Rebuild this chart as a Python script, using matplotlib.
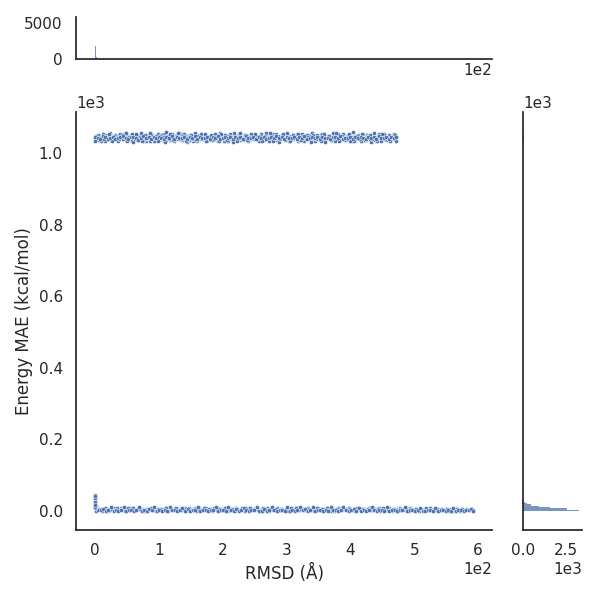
import matplotlib
matplotlib.use("Agg")
import matplotlib.pyplot as plt
from matplotlib.ticker import MaxNLocator
import seaborn as sns

sns.set_theme(style="white")
plt.rcParams['font.family'] = ['DejaVu Sans']

# ---- data: upper band (RMSD, energy MAE) ----
top_x = [0.5, 4.2, 8.1, 11.9, 16.3, 20.0, 24.1, 27.8, 32.2, 36.0, 39.7, 44.1, 48.0, 51.8, 56.2, 60.1, 63.9, 68.0, 72.2, 75.8,
         80.1, 84.0, 87.9, 92.1, 96.2, 99.8, 104.0, 108.1, 111.9, 116.2, 120.0, 123.8, 128.1, 132.0, 136.2, 139.9, 144.0, 148.2,
         151.8, 156.1, 160.0, 163.9, 168.2, 172.0, 175.8, 180.1, 184.2, 187.9, 192.0, 196.1, 199.8, 204.2, 208.0, 211.9, 216.1,
         220.0, 224.2, 227.8, 232.1, 236.0, 239.9, 244.2, 248.0, 251.8, 256.1, 260.2, 263.9, 268.0, 272.1, 275.9, 280.2, 284.0,
         287.8, 292.1, 296.0, 300.2, 303.9, 308.0, 312.1, 315.8, 320.2, 324.0, 327.9, 332.1, 336.0, 339.8, 344.2, 348.0, 352.1,
         355.9, 360.0, 364.2, 367.8, 372.1, 376.0, 379.9, 384.2, 388.0, 391.8, 396.1, 400.0, 404.2, 407.9, 412.0, 416.1, 419.8,
         424.2, 428.0, 431.9, 436.1, 440.0, 444.2, 447.8, 452.1, 456.0, 459.9, 464.1, 468.0, 471.5]
top_y1 = [1044, 1039, 1047, 1041, 1050, 1043, 1037, 1046, 1042, 1049, 1040, 1045, 1038, 1048, 1043, 1051, 1039, 1044, 1046, 1041,
          1036, 1047, 1043, 1049, 1040, 1045, 1042, 1053, 1038, 1046, 1044, 1041, 1048, 1039, 1045, 1043, 1050, 1037, 1046, 1042,
          1047, 1040, 1044, 1049, 1041, 1045, 1038, 1047, 1043, 1050, 1039, 1046, 1042, 1044, 1048, 1040, 1045, 1037, 1047, 1043,
          1049, 1041, 1044, 1046, 1039, 1051, 1042, 1045, 1040, 1048, 1043, 1038, 1046, 1044, 1050, 1041, 1047, 1039, 1045, 1043,
          1049, 1040, 1046, 1042, 1052, 1038, 1044, 1047, 1041, 1045, 1043, 1048, 1039, 1046, 1042, 1050, 1037, 1044, 1047, 1041,
          1045, 1040, 1049, 1043, 1046, 1038, 1044, 1048, 1042, 1045, 1036, 1047, 1043, 1050, 1041, 1044, 1046, 1039, 1045]
top_y2 = [1036, 1052, 1040, 1055, 1034, 1049, 1057, 1038, 1051, 1035, 1053, 1041, 1056, 1037, 1050, 1033, 1054, 1039, 1058, 1036,
          1051, 1042, 1055, 1034, 1049, 1038, 1052, 1036, 1060, 1040, 1053, 1035, 1050, 1057, 1037, 1054, 1033, 1051, 1039, 1056,
          1036, 1052, 1041, 1055, 1034, 1050, 1038, 1053, 1035, 1057, 1040, 1051, 1036, 1054, 1033, 1049, 1039, 1056, 1037, 1052,
          1035, 1055, 1041, 1050, 1034, 1053, 1038, 1058, 1036, 1051, 1040, 1054, 1033, 1052, 1039, 1056, 1035, 1050, 1042, 1055,
          1037, 1053, 1034, 1051, 1040, 1057, 1036, 1052, 1038, 1054, 1033, 1050, 1041, 1056, 1035, 1053, 1039, 1055, 1037, 1051,
          1034, 1059, 1040, 1052, 1036, 1054, 1038, 1050, 1033, 1056, 1041, 1053, 1035, 1055, 1037, 1051, 1039, 1054, 1036]
top_y3 = [1046, 1043, 1041, 1048, 1045, 1040, 1044, 1047, 1039, 1042, 1046, 1050, 1043, 1040, 1045, 1047, 1042, 1038, 1044, 1048,
          1043, 1046, 1040, 1045, 1042, 1047, 1044, 1041, 1046, 1043, 1048, 1040, 1045, 1042, 1044, 1047, 1041, 1045, 1043, 1049,
          1040, 1046, 1042, 1044, 1047, 1039, 1045, 1043, 1048, 1041, 1044, 1046, 1042, 1045, 1040, 1047, 1043, 1045, 1041, 1048,
          1044, 1042, 1046, 1040, 1045, 1043, 1047, 1041, 1044, 1046, 1042, 1049, 1043, 1045, 1040, 1047, 1044, 1042, 1046, 1041,
          1045, 1043, 1048, 1040, 1044, 1046, 1042, 1045, 1039, 1047, 1043, 1044, 1041, 1046, 1045, 1042, 1048, 1040, 1044, 1043,
          1046, 1041, 1045, 1042, 1047, 1044, 1040, 1046, 1043, 1045, 1041, 1048, 1042, 1044, 1046, 1040, 1045, 1043, 1047]
top_x_b = [2.3, 6.0, 10.2, 14.1, 18.0, 22.2, 26.0, 29.9, 34.1, 38.0, 42.2, 46.1, 49.9, 54.0, 58.1, 62.0, 66.2, 70.0, 74.1, 77.9,
           82.2, 86.0, 90.1, 94.0, 98.2, 102.1, 105.9, 110.0, 114.1, 118.0, 122.2, 125.9, 130.1, 134.0, 138.2, 142.0, 146.1,
           150.0, 154.2, 157.9, 162.1, 166.0, 170.2, 173.9, 178.0, 182.2, 186.0, 190.1, 194.0, 197.9, 202.1, 206.0, 210.2, 214.0,
           218.1, 222.0, 226.1, 230.0, 234.2, 238.0, 242.1, 246.0, 250.2, 253.9, 258.0, 262.1, 266.0, 270.2, 274.0, 278.1, 282.0,
           286.2, 290.0, 294.1, 298.0, 302.2, 306.0, 310.1, 314.0, 318.1, 322.0, 326.2, 330.0, 334.1, 338.0, 342.1, 346.0, 350.2,
           354.0, 358.1, 362.0, 366.1, 370.0, 374.2, 378.0, 382.1, 386.0, 390.1, 394.0, 398.2, 402.0, 406.1, 410.0, 414.2, 418.0,
           422.1, 426.0, 430.1, 434.0, 438.2, 442.0, 446.1, 450.0, 454.2, 458.0, 462.1, 466.0, 469.8]
top_y4 = [1041, 1048, 1035, 1045, 1052, 1039, 1043, 1050, 1037, 1046, 1042, 1054, 1040, 1047, 1036, 1044, 1051, 1038, 1045, 1049,
          1041, 1034, 1047, 1043, 1053, 1039, 1046, 1042, 1050, 1037, 1044, 1048, 1040, 1055, 1043, 1038, 1047, 1045, 1035, 1051,
          1042, 1046, 1039, 1049, 1044, 1037, 1052, 1041, 1047, 1043, 1036, 1050, 1045, 1040, 1048, 1038, 1053, 1042, 1046, 1044,
          1039, 1051, 1041, 1047, 1035, 1049, 1043, 1045, 1040, 1054, 1037, 1046, 1042, 1048, 1044, 1038, 1050, 1041, 1047, 1036,
          1052, 1043, 1045, 1039, 1049, 1042, 1046, 1040, 1051, 1037, 1044, 1048, 1041, 1055, 1043, 1038, 1047, 1045, 1040, 1050,
          1036, 1046, 1042, 1049, 1039, 1044, 1052, 1041, 1047, 1037, 1045, 1043, 1048, 1040, 1046, 1038, 1050, 1044, 1042]
top_y5 = [1049, 1037, 1044, 1040, 1046, 1055, 1036, 1048, 1043, 1039, 1051, 1045, 1034, 1047, 1053, 1041, 1038, 1046, 1035, 1052,
          1044, 1056, 1039, 1042, 1036, 1050, 1045, 1033, 1048, 1054, 1038, 1043, 1057, 1040, 1049, 1035, 1044, 1052, 1041, 1037,
          1048, 1055, 1043, 1034, 1046, 1051, 1039, 1045, 1036, 1053, 1042, 1038, 1049, 1044, 1056, 1035, 1047, 1041, 1052, 1037,
          1045, 1043, 1054, 1039, 1048, 1034, 1050, 1042, 1057, 1036, 1044, 1049, 1040, 1053, 1038, 1046, 1035, 1051, 1043, 1055,
          1037, 1048, 1041, 1045, 1033, 1052, 1040, 1047, 1036, 1054, 1042, 1049, 1038, 1044, 1056, 1035, 1050, 1043, 1039, 1053,
          1046, 1034, 1048, 1041, 1055, 1037, 1045, 1051, 1040, 1043, 1036, 1049, 1054, 1039, 1047, 1035, 1044, 1052, 1041]

# ---- data: lower band ----
bot_x = [1.0, 5.1, 9.0, 12.8, 17.1, 21.0, 24.9, 29.2, 33.0, 36.8, 41.1, 45.0, 49.2, 52.9, 57.0, 61.1, 64.8, 69.0, 73.2, 76.9,
         81.0, 85.1, 88.9, 93.0, 97.2, 100.8, 105.1, 109.0, 112.9, 117.1, 121.0, 124.8, 129.2, 133.0, 136.9, 141.1, 145.0, 149.2,
         152.8, 157.0, 161.1, 164.9, 169.0, 173.2, 176.8, 181.0, 185.1, 189.0, 192.9, 197.1, 201.0, 204.8, 209.1, 213.0, 217.2,
         220.9, 225.0, 229.1, 232.8, 237.0, 241.2, 244.9, 249.0, 253.1, 256.8, 261.0, 265.2, 268.9, 273.0, 277.1, 280.8, 285.0,
         289.2, 292.9, 297.0, 301.1, 304.8, 309.0, 313.2, 316.9, 321.0, 325.1, 328.8, 333.0, 337.2, 340.9, 345.0, 349.1, 352.8,
         357.0, 361.2, 364.9, 369.0, 373.1, 376.8, 381.0, 385.2, 388.9, 393.0, 397.1, 400.8, 405.0, 409.2, 412.9, 417.0, 421.1,
         424.8, 429.0, 433.2, 436.9, 441.0, 445.1, 448.8, 453.0, 457.2, 460.9, 465.0, 469.1, 472.8, 477.0, 481.2, 484.9, 489.0,
         493.1, 496.8, 501.0, 505.2, 508.9, 513.0, 517.1, 520.8, 525.0, 529.2, 532.9, 537.0, 541.1, 544.8, 549.0, 553.2, 556.9,
         561.0, 565.1, 568.8, 573.0, 577.2, 580.9, 585.0, 589.3, 592.0]
bot_y1 = [4.2, 2.1, 6.3, 3.5, 8.0, 1.2, 5.4, 7.1, 2.8, 4.9, 9.2, 3.1, 6.0, 1.8, 7.6, 4.4, 2.5, 8.3, 5.2, 3.0, 6.8, 1.5, 4.7, 7.9,
          2.3, 5.8, 3.6, 9.0, 1.9, 6.2, 4.1, 7.4, 2.7, 5.5, 3.3, 8.6, 1.4, 6.5, 4.0, 7.2, 2.2, 5.1, 3.8, 8.8, 1.7, 6.1, 4.6, 7.7,
          2.9, 5.3, 3.4, 9.4, 1.3, 6.7, 4.3, 7.0, 2.4, 5.9, 3.7, 8.1, 1.6, 6.4, 4.8, 7.5, 2.6, 5.0, 3.2, 8.9, 1.1, 6.6, 4.5, 7.3,
          2.0, 5.7, 3.9, 8.4, 1.8, 6.0, 4.2, 7.8, 2.5, 5.4, 3.1, 9.1, 1.4, 6.3, 4.7, 7.1, 2.8, 5.6, 3.5, 8.2, 1.2, 6.9, 4.0, 7.6,
          2.3, 5.2, 3.6, 8.7, 1.7, 6.2, 4.4, 7.4, 2.1, 5.8, 3.0, 8.0, 1.5, 6.5, 4.9, 7.0, 2.6, 5.5, 3.3, 8.5, 1.0, 6.1, 4.3, 7.2,
          2.4, 5.3, 3.8, 7.9, 1.6, 6.4, 4.1, 6.8, 2.2, 5.0, 3.4, 7.3, 1.3, 5.9, 4.6, 6.6, 2.0, 4.8, 3.2, 6.2, 1.1, 5.1, 3.9, 5.6,
          1.8, 4.2, 2.7, 5.0, 3.5]
bot_y2 = [0.8, 3.0, 1.5, 5.7, 0.4, 2.6, 10.2, 1.1, 3.8, 0.6, 2.2, 11.0, 0.9, 4.1, 1.7, 0.3, 3.3, 9.8, 1.3, 2.8, 0.7, 4.5, 1.9,
          10.6, 0.5, 3.1, 1.2, 2.4, 0.8, 11.3, 1.6, 3.6, 0.4, 2.0, 9.5, 1.0, 4.3, 0.6, 2.7, 1.4, 10.8, 0.9, 3.2, 1.8, 0.5, 4.0,
          2.3, 11.5, 0.7, 1.5, 3.5, 0.3, 10.0, 2.1, 1.1, 4.4, 0.8, 2.9, 9.7, 1.6, 0.4, 3.4, 2.5, 11.1, 0.6, 1.3, 4.2, 0.9, 2.0,
          10.4, 1.7, 0.5, 3.7, 2.6, 0.8, 11.8, 1.2, 3.0, 0.4, 2.3, 9.9, 1.5, 4.6, 0.7, 1.9, 10.7, 0.3, 3.3, 2.2, 1.0, 4.0, 0.6,
          11.2, 2.7, 1.4, 0.9, 3.6, 10.1, 1.8, 0.5, 2.4, 4.3, 0.8, 9.6, 1.1, 3.1, 0.4, 2.0, 10.9, 1.6, 0.7, 3.8, 2.5, 1.3, 11.4,
          0.6, 3.5, 1.9, 0.9, 4.1, 2.2, 10.3, 0.5, 1.5, 3.2, 0.8, 2.8, 9.4, 1.2, 0.4, 3.9, 2.1, 1.0, 8.8, 0.7, 2.6, 1.7, 0.5,
          3.4, 1.1, 7.9, 0.9, 2.3, 1.4, 0.6, 3.0, 1.8, 6.5, 0.8]
bot_x_b = [3.0, 7.1, 11.0, 15.0, 19.1, 23.0, 27.1, 31.0, 34.9, 39.0, 43.1, 47.0, 51.1, 55.0, 59.0, 63.1, 67.0, 71.1, 75.0, 79.0,
           83.1, 87.0, 91.0, 95.1, 99.0, 103.0, 107.1, 111.0, 115.0, 119.1, 123.0, 127.0, 131.1, 135.0, 139.0, 143.1, 147.0,
           151.0, 155.1, 159.0, 163.0, 167.1, 171.0, 175.0, 179.1, 183.0, 187.0, 191.1, 195.0, 199.0, 203.1, 207.0, 211.0, 215.1,
           219.0, 223.0, 227.1, 231.0, 235.0, 239.1, 243.0, 247.0, 251.1, 255.0, 259.0, 263.1, 267.0, 271.0, 275.1, 279.0, 283.0,
           287.1, 291.0, 295.0, 299.1, 303.0, 307.0, 311.1, 315.0, 319.0, 323.1, 327.0, 331.0, 335.1, 339.0, 343.0, 347.1, 351.0,
           355.0, 359.1, 363.0, 367.0, 371.1, 375.0, 379.0, 383.1, 387.0, 391.0, 395.1, 399.0, 403.0, 407.1, 411.0, 415.0, 419.1,
           423.0, 427.0, 431.1, 435.0, 439.0, 443.1, 447.0, 451.0, 455.1, 459.0, 463.0, 467.1, 471.0, 475.0, 479.1, 483.0, 487.0,
           491.1, 495.0, 499.0, 503.1, 507.0, 511.0, 515.1, 519.0, 523.0, 527.1, 531.0, 535.0, 539.1, 543.0, 547.0, 551.1, 555.0,
           559.0, 563.1, 567.0, 571.0, 575.1, 579.0, 583.0, 587.0]
bot_y3 = [2.5, 5.9, 0.9, 7.3, 3.6, 1.4, 6.6, 4.0, 8.5, 2.0, 5.2, 0.6, 7.0, 3.3, 9.0, 1.7, 4.8, 6.2, 2.9, 0.5, 5.6, 8.1, 3.9, 1.2,
          6.8, 4.4, 2.3, 7.6, 0.8, 5.0, 3.1, 9.3, 1.9, 6.3, 4.6, 0.4, 7.9, 2.7, 5.4, 1.1, 6.9, 3.7, 8.7, 2.1, 4.9, 0.7, 7.2, 3.4,
          5.8, 1.6, 8.3, 4.1, 2.6, 6.5, 0.9, 5.3, 3.0, 7.7, 1.3, 4.5, 9.1, 2.4, 6.0, 3.8, 0.5, 7.4, 5.1, 1.8, 8.0, 3.2, 4.7, 0.8,
          6.7, 2.2, 5.5, 1.0, 7.8, 3.5, 9.5, 2.0, 4.3, 6.1, 1.5, 5.7, 3.6, 0.6, 8.4, 2.8, 4.9, 1.2, 7.1, 3.9, 5.2, 0.9, 6.4, 2.5,
          8.8, 4.2, 1.7, 5.9, 3.3, 0.4, 7.5, 2.6, 4.6, 1.4, 6.8, 3.0, 8.2, 2.1, 5.0, 0.7, 7.0, 3.7, 4.4, 1.9, 6.2, 2.9, 0.6, 5.6,
          3.4, 7.6, 1.1, 4.8, 2.3, 6.0, 0.8, 5.3, 3.1, 7.3, 1.6, 4.0, 2.7, 6.6, 0.5, 4.5, 3.5, 5.8, 1.3, 3.9, 2.4, 5.1, 1.0, 4.2,
          2.0]

# ---- data: column of points at RMSD ~ 0 ----
zero_x = [0.2, 0.5, 0.1, 0.8, 0.3, 0.6, 0.0, 0.4, 0.9, 0.2, 0.7, 0.1, 0.5, 0.3, 0.8, 0.0, 0.6, 0.2, 0.4, 0.1, 0.7, 0.3, 0.5, 0.2]
zero_y = [12, 18, 25, 9, 31, 15, 38, 21, 14, 27, 11, 44, 19, 33, 8, 23, 16, 29, 13, 36, 10, 24, 17, 41]

# ---- marginal histograms (bin left edges, counts) ----
hist_x_edges = [0.0, 2.0]
hist_x_width = 2.0
hist_x_counts = [1800, 250]
hist_x_top = 5830

hist_y_edges = [0.0, 3.7, 7.4, 11.1, 14.8, 18.5, 22.2, 25.9, 29.6, 33.3, 37.0, 40.7,
                1029.5, 1033.2, 1036.9, 1040.6, 1044.3, 1048.0, 1051.7, 1055.4, 1059.1]
hist_y_width = 3.7
hist_y_counts = [3256, 2560, 1570, 930, 465, 233, 116, 60, 35, 20, 12, 6,
                 10, 25, 40, 55, 55, 40, 25, 12, 5]

blue = "#4c72b0"
edge = ".15"

fig = plt.figure(figsize=(6, 6), dpi=100)
ax = fig.add_axes([0.1267, 0.1167, 0.6933, 0.6967])
ax_mx = fig.add_axes([0.1267, 0.9017, 0.6933, 0.07], sharex=ax)
ax_my = fig.add_axes([0.8717, 0.1167, 0.0983, 0.6967], sharey=ax)

def pts(xs, ys):
    n = min(len(xs), len(ys))
    return xs[:n], ys[:n]

kw = dict(s=9, color=blue, edgecolor="white", linewidth=0.35, zorder=3)
for xx, yy in ((top_x, top_y1), (top_x_b, top_y4), (top_x, top_y2), (top_x_b, top_y5), (top_x, top_y3),
               (bot_x, bot_y1), (bot_x_b, bot_y3), (bot_x, bot_y2), (zero_x, zero_y)):
    xs, ys = pts(xx, yy)
    ax.scatter(xs, ys, **kw)

ax.set_xlabel("RMSD (Å)")
ax.set_ylabel("Energy MAE (kcal/mol)")
ax.ticklabel_format(style="sci", axis="both", scilimits=(0, 0))

# marginal x histogram
ax_mx.bar(hist_x_edges, hist_x_counts, width=hist_x_width, align="edge",
          color=blue, alpha=0.75, linewidth=0)
ax_mx.set_ylim(0, hist_x_top)
ax_mx.yaxis.set_major_locator(MaxNLocator(nbins=2, steps=[1, 2.5, 5, 10]))
plt.setp(ax_mx.get_xticklabels(), visible=False)

# marginal y histogram
ax_my.barh(hist_y_edges, hist_y_counts, height=hist_y_width, align="edge",
           color=blue, alpha=0.75, linewidth=0)
ax_my.xaxis.set_major_locator(MaxNLocator(nbins=2, steps=[1, 2.5, 5, 10]))
ax_my.ticklabel_format(style="sci", axis="x", scilimits=(0, 0))
plt.setp(ax_my.get_yticklabels(), visible=False)

for a in (ax, ax_mx, ax_my):
    for s in ("top", "right"):
        a.spines[s].set_visible(False)
    for s in ("left", "bottom"):
        a.spines[s].set_color(edge)
        a.spines[s].set_linewidth(1.25)

fig.savefig("out.png", dpi=100)
